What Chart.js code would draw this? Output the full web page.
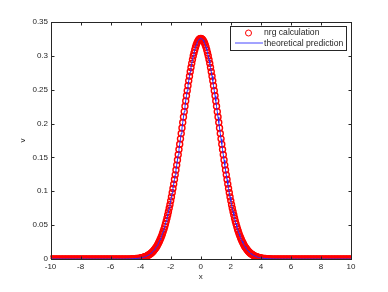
<!DOCTYPE html>
<html>
<head>
<meta charset="utf-8">
<script src="https://cdn.jsdelivr.net/npm/chart.js@4/dist/chart.umd.min.js"></script>
<style>
  html, body { margin: 0; padding: 0; background: #fff; }
  #wrap { width: 388px; height: 292px; }
</style>
</head>
<body>
<div id="wrap"><canvas id="chart" width="388" height="292"></canvas></div>
<script>
// x positions of the samples
const xLeftTail = [-10, -9.9, -9.8, -9.7, -9.6, -9.5, -9.4, -9.3, -9.2, -9.1, -9, -8.9, -8.8, -8.7, -8.6,
    -8.5, -8.4, -8.3, -8.2, -8.1, -8, -7.9, -7.8, -7.7, -7.6, -7.5, -7.4, -7.3, -7.2, -7.1, -7, -6.9, -6.8,
    -6.7, -6.6, -6.5, -6.4, -6.3, -6.2, -6.1, -6, -5.9, -5.8, -5.7, -5.6, -5.5, -5.4, -5.3, -5.2, -5.1, -5,
    -4.9, -4.8, -4.7, -4.6, -4.5, -4.4, -4.3, -4.2, -4.1];
const xCore = [-4, -3.95, -3.9, -3.85, -3.8, -3.75, -3.7, -3.65, -3.6, -3.55, -3.5, -3.45, -3.4, -3.35, -3.3,
    -3.25, -3.2, -3.15, -3.1, -3.05, -3, -2.95, -2.9, -2.85, -2.8, -2.75, -2.7, -2.65, -2.6, -2.55, -2.5,
    -2.45, -2.4, -2.35, -2.3, -2.25, -2.2, -2.15, -2.1, -2.05, -2, -1.95, -1.9, -1.85, -1.8, -1.75, -1.7,
    -1.65, -1.6, -1.55, -1.5, -1.45, -1.4, -1.35, -1.3, -1.25, -1.2, -1.15, -1.1, -1.05, -1, -0.95, -0.9,
    -0.85, -0.8, -0.75, -0.7, -0.65, -0.6, -0.55, -0.5, -0.45, -0.4, -0.35, -0.3, -0.25, -0.2, -0.15, -0.1,
    -0.05, 0, 0.05, 0.1, 0.15, 0.2, 0.25, 0.3, 0.35, 0.4, 0.45, 0.5, 0.55, 0.6, 0.65, 0.7, 0.75, 0.8, 0.85,
    0.9, 0.95, 1, 1.05, 1.1, 1.15, 1.2, 1.25, 1.3, 1.35, 1.4, 1.45, 1.5, 1.55, 1.6, 1.65, 1.7, 1.75, 1.8,
    1.85, 1.9, 1.95, 2, 2.05, 2.1, 2.15, 2.2, 2.25, 2.3, 2.35, 2.4, 2.45, 2.5, 2.55, 2.6, 2.65, 2.7, 2.75,
    2.8, 2.85, 2.9, 2.95, 3, 3.05, 3.1, 3.15, 3.2, 3.25, 3.3, 3.35, 3.4, 3.45, 3.5, 3.55, 3.6, 3.65, 3.7,
    3.75, 3.8, 3.85, 3.9, 3.95, 4];
const xRightTail = [4.1, 4.2, 4.3, 4.4, 4.5, 4.6, 4.7, 4.8, 4.9, 5, 5.1, 5.2, 5.3, 5.4, 5.5, 5.6, 5.7,
    5.8, 5.9, 6, 6.1, 6.2, 6.3, 6.4, 6.5, 6.6, 6.7, 6.8, 6.9, 7, 7.1, 7.2, 7.3, 7.4, 7.5, 7.6, 7.7, 7.8,
    7.9, 8, 8.1, 8.2, 8.3, 8.4, 8.5, 8.6, 8.7, 8.8, 8.9, 9, 9.1, 9.2, 9.3, 9.4, 9.5, 9.6, 9.7, 9.8, 9.9, 10];

// v (nrg circles and theory line sit on top of each other)
const vLeftTail = [0, 0, 0, 0, 0, 0, 0, 0, 0, 0, 0, 0, 0, 0, 0, 0, 0, 0, 0, 0, 0, 0, 0, 0, 0, 0, 0, 0, 0, 0,
    0, 0, 0, 0, 0, 0, 0, 0, 0, 0, 0, 0, 0, 0, 0, 0, 0, 0, 0, 0,
    0.0001, 0.0001, 0.0002, 0.0002, 0.0003, 0.0004, 0.0005, 0.0007, 0.0009, 0.0012];
const vCore = [0.0016, 0.0018, 0.0020, 0.0023, 0.0026, 0.0030, 0.0034, 0.0038, 0.0043, 0.0049, 0.0055,
    0.0062, 0.0069, 0.0077, 0.0086, 0.0096, 0.0107, 0.0119, 0.0132, 0.0147, 0.0162, 0.0179, 0.0197,
    0.0217, 0.0239, 0.0262, 0.0287, 0.0313, 0.0342, 0.0373, 0.0406, 0.0440, 0.0478, 0.0517, 0.0558,
    0.0602, 0.0649, 0.0698, 0.0749, 0.0803, 0.0859, 0.0917, 0.0978, 0.1041, 0.1106, 0.1173, 0.1243,
    0.1314, 0.1387, 0.1462, 0.1539, 0.1616, 0.1695, 0.1774, 0.1854, 0.1935, 0.2015, 0.2096, 0.2176,
    0.2255, 0.2334, 0.2411, 0.2486, 0.2560, 0.2631, 0.2700, 0.2766, 0.2829, 0.2889, 0.2945, 0.2997,
    0.3044, 0.3088, 0.3127, 0.3161, 0.3190, 0.3214, 0.3233, 0.3246, 0.3254,
    0.3257,
    0.3254, 0.3246, 0.3233, 0.3214, 0.3190, 0.3161, 0.3127, 0.3088, 0.3044, 0.2997, 0.2945, 0.2889,
    0.2829, 0.2766, 0.2700, 0.2631, 0.2560, 0.2486, 0.2411, 0.2334, 0.2255, 0.2176, 0.2096, 0.2015,
    0.1935, 0.1854, 0.1774, 0.1695, 0.1616, 0.1539, 0.1462, 0.1387, 0.1314, 0.1243, 0.1173, 0.1106,
    0.1041, 0.0978, 0.0917, 0.0859, 0.0803, 0.0749, 0.0698, 0.0649, 0.0602, 0.0558, 0.0517, 0.0478,
    0.0440, 0.0406, 0.0373, 0.0342, 0.0313, 0.0287, 0.0262, 0.0239, 0.0217, 0.0197, 0.0179, 0.0162,
    0.0147, 0.0132, 0.0119, 0.0107, 0.0096, 0.0086, 0.0077, 0.0069, 0.0062, 0.0055, 0.0049, 0.0043,
    0.0038, 0.0034, 0.0030, 0.0026, 0.0023, 0.0020, 0.0018, 0.0016];
const vRightTail = [0.0012, 0.0009, 0.0007, 0.0005, 0.0004, 0.0003, 0.0002, 0.0002, 0.0001, 0.0001,
    0, 0, 0, 0, 0, 0, 0, 0, 0, 0, 0, 0, 0, 0, 0, 0, 0, 0, 0, 0,
    0, 0, 0, 0, 0, 0, 0, 0, 0, 0, 0, 0, 0, 0, 0, 0, 0, 0, 0, 0, 0, 0, 0, 0, 0, 0, 0, 0, 0, 0];

const xTicks = [-10, -8, -6, -4, -2, 0, 2, 4, 6, 8, 10];
const yTicks = [0, 0.05, 0.1, 0.15, 0.2, 0.25, 0.3, 0.35];
const seriesNames = ['nrg calculation', 'theoretical prediction'];

const xs = xLeftTail.concat(xCore, xRightTail);
const vs = vLeftTail.concat(vCore, vRightTail);
const points = xs.map((x, i) => ({ x: x, y: vs[i] }));

const axisColor = '#262626';

// matlab style box with inward ticks, plus the legend box
const matlabAxes = {
    id: 'matlabAxes',
    afterDatasetsDraw(chart) {
        const { ctx, chartArea: a, scales: { x, y } } = chart;
        const L = Math.round(a.left) + 0.5, R = Math.round(a.right) + 0.5;
        const T = Math.round(a.top) + 0.5, B = Math.round(a.bottom) + 0.5;
        ctx.save();
        ctx.strokeStyle = axisColor;
        ctx.lineWidth = 1;
        ctx.strokeRect(L, T, R - L, B - T);
        ctx.beginPath();
        xTicks.forEach(v => {
            const px = Math.round(x.getPixelForValue(v)) + 0.5;
            ctx.moveTo(px, B); ctx.lineTo(px, B - 3);
            ctx.moveTo(px, T); ctx.lineTo(px, T + 3);
        });
        yTicks.forEach(v => {
            const py = Math.round(y.getPixelForValue(v)) + 0.5;
            ctx.moveTo(L, py); ctx.lineTo(L + 3, py);
            ctx.moveTo(R, py); ctx.lineTo(R - 3, py);
        });
        ctx.stroke();

        // legend
        const lx = 230.5, ly = 26.5, lw = 116, lh = 24;
        ctx.fillStyle = '#fff';
        ctx.fillRect(lx, ly, lw, lh);
        ctx.strokeStyle = axisColor;
        ctx.strokeRect(lx, ly, lw, lh);
        ctx.strokeStyle = 'rgb(255,0,0)';
        ctx.beginPath();
        ctx.arc(248.5, 33, 3, 0, Math.PI * 2);
        ctx.stroke();
        ctx.strokeStyle = 'rgb(70,70,255)';
        ctx.beginPath();
        ctx.moveTo(235, 43); ctx.lineTo(263, 43);
        ctx.stroke();
        ctx.fillStyle = axisColor;
        ctx.font = '8.6px "Liberation Sans", Arial, sans-serif';
        ctx.textBaseline = 'middle';
        ctx.fillText(seriesNames[0], 264, 33);
        ctx.fillText(seriesNames[1], 264, 43.5);
        ctx.restore();
    }
};

const tickFont = { family: '"Liberation Sans", Arial, sans-serif', size: 8 };

new Chart(document.getElementById('chart'), {
    type: 'scatter',
    data: {
        datasets: [{
            label: seriesNames[0],
            data: points,
            showLine: false,
            pointStyle: 'circle',
            pointRadius: 3,
            pointBorderWidth: 1.4,
            pointBorderColor: 'rgb(255,0,0)',
            pointBackgroundColor: 'rgba(0,0,0,0)',
            order: 1
        }, {
            label: seriesNames[1],
            data: points,
            showLine: true,
            borderColor: 'rgb(40,40,255)',
            borderWidth: 1,
            pointRadius: 0,
            order: 0
        }]
    },
    options: {
        responsive: false,
        animation: false,
        events: [],
        layout: { padding: { top: 22, right: 37, left: 0, bottom: 0 } },
        plugins: { legend: { display: false }, tooltip: { enabled: false } },
        scales: {
            x: {
                type: 'linear',
                min: -10,
                max: 10,
                afterFit: s => { s.height = 33; },
                afterBuildTicks: s => { s.ticks = xTicks.map(v => ({ value: v })); },
                grid: { display: false, drawTicks: false },
                border: { display: false },
                ticks: { color: axisColor, font: tickFont, padding: 3, maxRotation: 0,
                    callback: v => String(v) },
                title: { display: true, text: 'x', color: axisColor, font: tickFont,
                    padding: { top: 0, bottom: 10 } }
            },
            y: {
                type: 'linear',
                min: 0,
                max: 0.35,
                afterFit: s => { s.width = 50.5; },
                afterBuildTicks: s => { s.ticks = yTicks.map(v => ({ value: v })); },
                grid: { display: false, drawTicks: false },
                border: { display: false },
                ticks: { color: axisColor, font: tickFont, padding: 2.5,
                    callback: v => String(+v.toFixed(2)) },
                title: { display: true, text: 'v', color: axisColor, font: tickFont,
                    padding: { top: 18, bottom: 0 } }
            }
        }
    },
    plugins: [matlabAxes]
});
</script>
</body>
</html>
